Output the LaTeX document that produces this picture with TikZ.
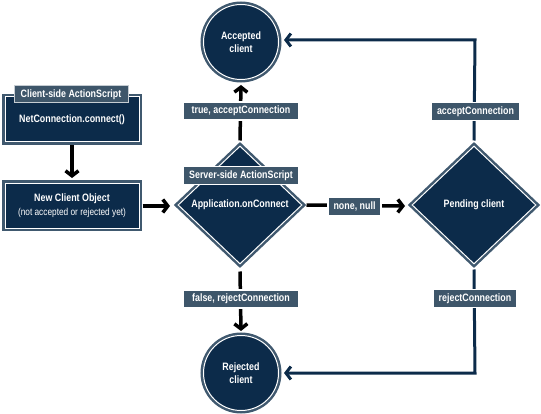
\documentclass[tikz,border=0pt]{standalone}
\usepackage{fontspec}
\setmainfont{Liberation Sans}[FakeStretch=0.83]
\usetikzlibrary{arrows.meta,shapes.geometric}
\definecolor{navy}{HTML}{0C2B4A}
\definecolor{ring}{HTML}{40596F}
\definecolor{tagfill}{HTML}{3E566A}
\begin{document}
\begin{tikzpicture}[x=1pt,y=-1pt,
  shell/.style={fill=navy, draw=white, line width=1pt, preaction={draw=ring,line width=6pt}, text=white, font=\bfseries\fontsize{10.7}{14}\selectfont, inner sep=0pt},
  boxnode/.style={shell, rectangle, minimum width=134pt, minimum height=45pt, align=center},
  circnode/.style={shell, circle, minimum size=75pt, align=center, font=\bfseries\fontsize{10.7}{13}\selectfont},
  dianode/.style={shell, diamond, minimum width=124pt, minimum height=118pt},
  dtext/.style={text=white, font=\bfseries\fontsize{10.7}{12}\selectfont, inner sep=0pt},
  tag/.style={fill=tagfill, text=white, font=\bfseries\fontsize{10.7}{12}\selectfont, inner xsep=5pt, inner ysep=0pt, minimum height=16.5pt, preaction={draw=white,line width=3pt}},
  widetag/.style={tag, minimum width=114pt},
  cstag/.style={fill=tagfill, draw=white!70!tagfill, line width=1pt, text=white, font=\bfseries\fontsize{10.7}{12}\selectfont, minimum width=114pt, minimum height=17pt, inner sep=0pt},
  blk/.style={line width=3.5pt, black, -{Straight Barb[length=5pt,width=13pt]}},
  nvy/.style={line width=3pt, navy, -{Straight Barb[length=5pt,width=13pt]}}
]
\useasboundingbox (0,0) rectangle (541,414);

% client side
\node[boxnode] (nc) at (72,119.5) {\raisebox{-2pt}{NetConnection.connect()}};
\node[cstag] (cs) at (71,94.5) {Client-side ActionScript};
\node[boxnode] (nco) at (72,206) {New Client Object\\{\mdseries\fontsize{10}{14}\selectfont (not accepted or rejected yet)}};

% server side
\node[dianode] (app) at (240,205) {};
\node[dtext] (appt) at (app.center) {Application.onConnect};
\node[dianode] (pend) at (474,205) {};
\node[dtext] (pendt) at (pend.center) {Pending client};

\node[circnode] (acc) at (241,42) {Accepted\\client};
\node[circnode] (rej) at (241,373) {Rejected\\client};

% connectors
\draw[blk] (nc.south) ++(0,3) -- (72,178);
\draw[blk] (nco.east) ++(3,0) -- (170,206);

\coordinate (accin) at (241,85);
\coordinate (rejin) at (241,331);
\draw[blk] (app.north) ++(0,-5) -- (accin);
\draw[blk] (app.south) ++(0,7) -- (rejin);
\draw[blk] (app.east) ++(4,0) -- (405,206);

\coordinate (acorner) at (475,40);
\coordinate (rcorner) at (475,373);
\draw[nvy, line join=miter] (pend.north) ++(0,-5) -- (acorner) -- (284,40);
\draw[nvy, line join=miter] (pend.south) ++(0,5) -- (rcorner) -- (284,373);

% labels
\node[widetag] (lt) at (241,111) {true, acceptConnection};
\node[widetag] (ss) at (241,175.5) {Server-side ActionScript};
\node[widetag] (lf) at (241,299) {false, rejectConnection};
\node[tag] (ln) at (354.5,206.5) {none, null};
\node[tag] (la) at (475.5,111.5) {acceptConnection};
\node[tag] (lr) at (475,298.5) {rejectConnection};
\end{tikzpicture}
\end{document}
